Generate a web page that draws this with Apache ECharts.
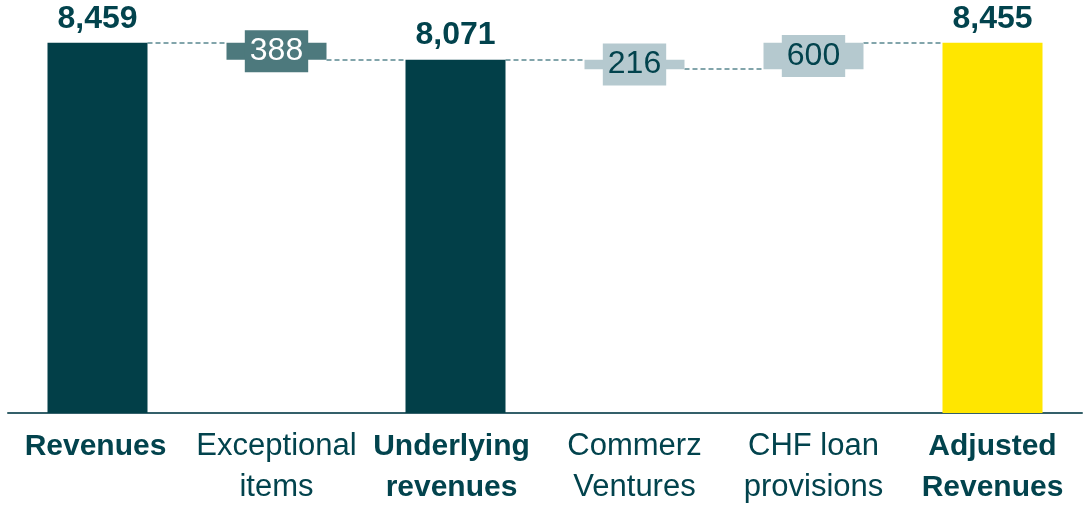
<!DOCTYPE html>
<html>
<head>
<meta charset="utf-8">
<script src="https://cdn.jsdelivr.net/npm/echarts@6/dist/echarts.min.js"></script>
<style>
  html, body { margin: 0; padding: 0; background: #fff; }
  #chart { width: 1088px; height: 508px; }
</style>
</head>
<body>
<div id="chart"></div>
<script>
const categories = ['Revenues', 'Exceptional\nitems', 'Underlying\nrevenues', 'Commerz\nVentures', 'CHF loan\nprovisions', 'Adjusted\nRevenues']
const values = [8459, -388, 8071, -216, 600, 8455]
const isTotal = [true, false, true, false, false, true]

const FONT = '"Liberation Sans", Arial, sans-serif'
const TEXT = '#02434d'
const DARK = '#023f48'
const MID = '#4d797d'
const LIGHT = '#b5c9cf'
const YELLOW = '#ffe600'

const barColors = [DARK, MID, DARK, LIGHT, LIGHT, YELLOW]
// small horizontal nudges, a couple of labels sit a bit left of the bar centre
const labelShift = [-2, 0, -4, 0, 0, 0]

// waterfall geometry from the values
const base = []
const height = []
const levels = []
let level = 0
values.forEach((v, i) => {
  if (isTotal[i]) {
    base.push(0)
    height.push(v)
    level = v
  } else {
    const next = level + v
    base.push(Math.min(level, next))
    height.push(Math.abs(v))
    level = next
  }
  levels.push(level)
})
// dashed connector between bar i and bar i+1 at the running level after bar i
const connectors = []
for (let i = 0; i < values.length - 1; i++) {
  connectors.push([i, levels[i]])
}

const BAR_W = 100

const chart = echarts.init(document.getElementById('chart'))

const xData = categories.map((name, i) => ({
  value: name,
  textStyle: {
    fontWeight: isTotal[i] ? 'bold' : 'normal',
    fontSize: isTotal[i] ? 30 : 31,
    padding: labelShift[i] < 0 ? [0, -2 * labelShift[i], 0, 0] : [0, 0, 0, 2 * labelShift[i]],
  },
}))

const valueData = height.map((h, i) => {
  const item = { value: h, itemStyle: { color: barColors[i] } }
  if (isTotal[i]) {
    item.label = {
      show: true,
      position: 'top',
      distance: 8,
      fontSize: 32,
      fontWeight: 'bold',
      color: TEXT,
    }
  } else {
    item.label = {
      show: true,
      position: 'inside',
      fontSize: 32,
      color: barColors[i] === MID ? '#ffffff' : TEXT,
      backgroundColor: barColors[i],
      padding: [6, 5, 4, 5],
    }
  }
  return item
})

chart.setOption({
  backgroundColor: '#fff',
  animation: false,
  textStyle: { fontFamily: FONT },
  grid: { left: 8, right: 6, top: 19, bottom: 91, containLabel: false },
  xAxis: {
    type: 'category',
    data: xData,
    axisLine: { lineStyle: { color: '#34606a', width: 2 } },
    axisTick: { show: false },
    axisLabel: {
      interval: 0,
      margin: 13,
      fontSize: 30,
      lineHeight: 41,
      color: TEXT,
      fontFamily: FONT,
    },
  },
  yAxis: {
    type: 'value',
    min: 0,
    max: 9000,
    show: false,
    splitLine: { show: false },
  },
  series: [
    {
      type: 'custom',
      z: 1,
      data: connectors,
      renderItem(params, api) {
        const i = api.value(0)
        const y = api.value(1)
        const a = api.coord([i, y])
        const b = api.coord([i + 1, y])
        const yy = Math.round(a[1])
        return {
          type: 'line',
          shape: { x1: a[0] + BAR_W / 2, y1: yy, x2: b[0] - BAR_W / 2, y2: yy },
          style: { stroke: '#5a8890', lineWidth: 1.6, lineDash: [5, 3] },
        }
      },
    },
    {
      type: 'bar',
      stack: 'wf',
      z: 2,
      barWidth: BAR_W,
      itemStyle: { color: 'transparent' },
      emphasis: { disabled: true },
      data: base,
    },
    {
      type: 'bar',
      stack: 'wf',
      z: 2,
      barWidth: BAR_W,
      emphasis: { disabled: true },
      label: {
        fontFamily: FONT,
        formatter: (p) => p.value.toLocaleString('en-US'),
      },
      data: valueData,
    },
  ],
})
</script>
</body>
</html>
